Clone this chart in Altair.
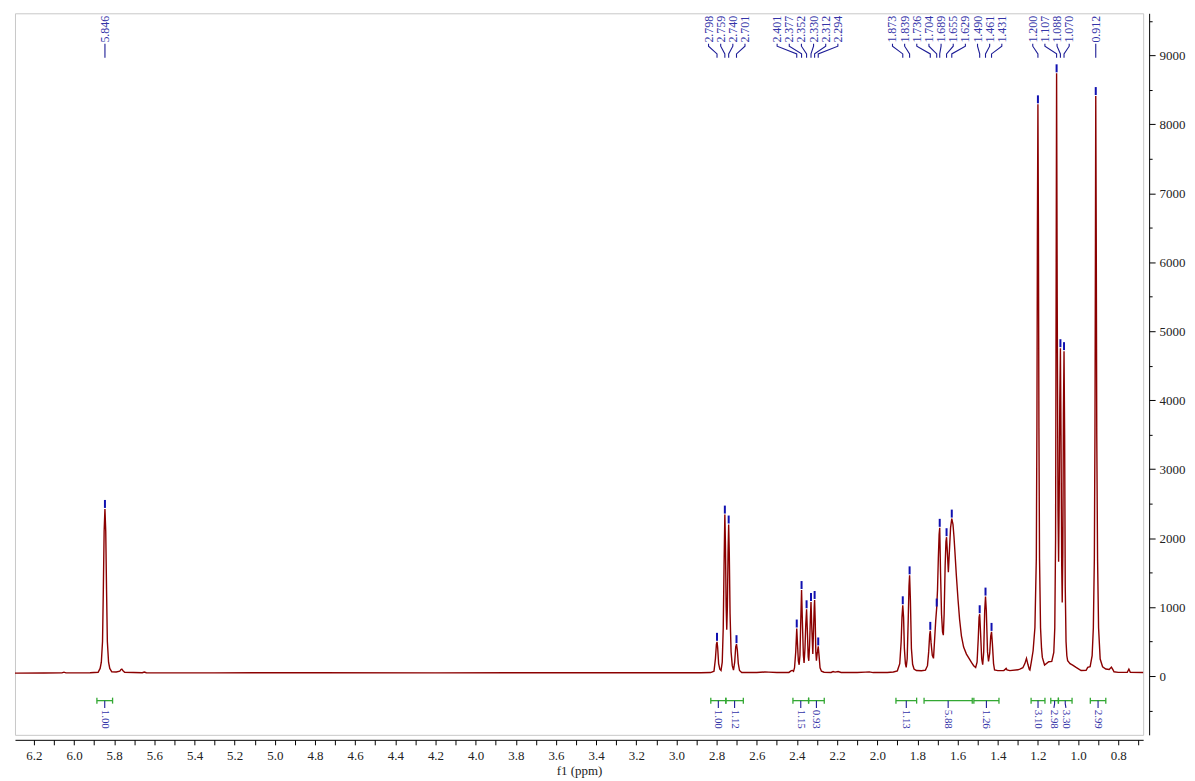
import altair as alt
import pandas as pd

# ---------------- data ----------------
spec_ppm = [6.294, 6.150, 6.060, 6.050, 6.040, 5.920, 5.880, 5.870, 5.864, 5.858, 5.854, 5.850, 5.846,
            5.842, 5.838, 5.834, 5.828, 5.822, 5.812, 5.790, 5.772, 5.766, 5.762, 5.757, 5.748, 5.660,
            5.650, 5.640, 5.300, 4.800, 4.200, 3.600, 3.000, 2.880, 2.830, 2.813, 2.806, 2.801, 2.798,
            2.795, 2.790, 2.784, 2.778, 2.772, 2.767, 2.763, 2.759, 2.756, 2.7525, 2.7495, 2.7465, 2.743,
            2.740, 2.737, 2.733, 2.728, 2.722, 2.716, 2.710, 2.705, 2.701, 2.697, 2.692, 2.686, 2.675,
            2.600, 2.560, 2.540, 2.500, 2.440, 2.428, 2.422, 2.417, 2.412, 2.406, 2.401, 2.397, 2.393,
            2.389, 2.385, 2.381, 2.377, 2.373, 2.368, 2.3645, 2.360, 2.356, 2.352, 2.348, 2.344, 2.341,
            2.337, 2.333, 2.330, 2.326, 2.321, 2.317, 2.314, 2.312, 2.309, 2.306, 2.303, 2.299, 2.294,
            2.290, 2.285, 2.278, 2.265, 2.230, 2.220, 2.210, 2.195, 2.180, 2.100, 2.060, 2.040, 2.020,
            1.950, 1.920, 1.900, 1.888, 1.881, 1.877, 1.873, 1.869, 1.865, 1.860, 1.856, 1.851, 1.846,
            1.842, 1.839, 1.835, 1.830, 1.824, 1.817, 1.805, 1.780, 1.760, 1.750, 1.744, 1.739, 1.736,
            1.732, 1.726, 1.720, 1.715, 1.709, 1.704, 1.700, 1.696, 1.692, 1.689, 1.685, 1.680, 1.675,
            1.671, 1.667, 1.662, 1.658, 1.655, 1.651, 1.646, 1.641, 1.635, 1.629, 1.623, 1.618, 1.614,
            1.606, 1.598, 1.590, 1.581, 1.570, 1.556, 1.540, 1.531, 1.520, 1.510, 1.503, 1.497, 1.493,
            1.490, 1.486, 1.480, 1.475, 1.470, 1.465, 1.461, 1.457, 1.451, 1.446, 1.440, 1.435, 1.431,
            1.427, 1.421, 1.416, 1.400, 1.370, 1.362, 1.358, 1.354, 1.340, 1.300, 1.290, 1.275, 1.265,
            1.257, 1.250, 1.243, 1.240, 1.233, 1.224, 1.215, 1.208, 1.205, 1.2025, 1.200, 1.1975, 1.195,
            1.192, 1.187, 1.182, 1.178, 1.167, 1.146, 1.131, 1.121, 1.116, 1.112, 1.109, 1.107, 1.104,
            1.100, 1.097, 1.094, 1.091, 1.088, 1.085, 1.0815, 1.079, 1.076, 1.073, 1.070, 1.067, 1.064,
            1.060, 1.056, 1.052, 1.040, 1.027, 1.010, 0.985, 0.960, 0.952, 0.940, 0.930, 0.924, 0.919,
            0.916, 0.9135, 0.912, 0.9095, 0.907, 0.903, 0.898, 0.890, 0.878, 0.862, 0.845, 0.834, 0.826,
            0.821, 0.800, 0.755, 0.747, 0.740, 0.676]
spec_int = [42, 44, 46, 56, 46, 47, 55, 110, 200, 500, 1250, 2100, 2423,
            2100, 1250, 500, 200, 110, 62, 58, 70, 95, 100, 80, 55, 48,
            58, 48, 46, 47, 46, 47, 48, 48, 50, 70, 250, 460, 496,
            420, 180, 100, 80, 200, 700, 1600, 2341, 1900, 1000, 670, 1000, 1800,
            2197, 1800, 900, 350, 150, 85, 200, 420, 462, 380, 180, 80, 52,
            50, 58, 56, 50, 52, 78, 80, 68, 120, 350, 689, 450, 220,
            163, 300, 800, 1247, 800, 300, 188, 400, 750, 968, 650, 280, 221,
            450, 850, 1074, 700, 318, 700, 1000, 1103, 800, 350, 221, 330, 429,
            300, 120, 70, 55, 52, 64, 56, 66, 52, 50, 56, 60, 50,
            52, 58, 75, 180, 500, 850, 1026, 850, 400, 180, 125, 250, 800,
            1300, 1460, 1100, 400, 170, 101, 80, 76, 85, 150, 350, 600, 655,
            480, 300, 256, 500, 800, 993, 1250, 1700, 2050, 2149, 1500, 900, 640,
            592, 900, 1600, 1950, 2013, 1800, 1507, 1800, 2150, 2283, 2200, 2020, 1835,
            1450, 1113, 820, 583, 420, 318, 240, 197, 150, 125, 200, 550, 850,
            896, 650, 250, 164, 350, 950, 1152, 950, 350, 212, 330, 580, 640,
            480, 180, 87, 78, 80, 100, 111, 90, 78, 90, 101, 120, 180,
            256, 170, 95, 87, 200, 366, 700, 1700, 3600, 6500, 8290, 6500, 3600,
            1700, 700, 400, 270, 159, 207, 213, 342, 700, 2000, 6000, 8740, 5500,
            2400, 1657, 2600, 4000, 4754, 3500, 1600, 1065, 1800, 3800, 4711, 3500, 1300,
            500, 294, 222, 180, 159, 125, 80, 82, 125, 135, 294, 700, 1700,
            3500, 6300, 8410, 6300, 3500, 1700, 700, 246, 135, 101, 95, 130, 90,
            62, 53, 55, 101, 55, 50]

peak_ppm = [5.846, 2.798, 2.759, 2.740, 2.701, 2.401, 2.377, 2.352, 2.330, 2.312, 2.294,
            1.873, 1.839, 1.736, 1.704, 1.689, 1.655, 1.629, 1.490, 1.461, 1.431,
            1.200, 1.107, 1.088, 1.070, 0.912]

int_start = [5.886, 2.829, 2.754, 2.420, 2.342, 1.907, 1.767, 1.519, 1.234, 1.136, 1.098, 0.939]
int_end = [5.808, 2.754, 2.667, 2.342, 2.264, 1.804, 1.527, 1.394, 1.165, 1.098, 1.030, 0.862]
int_vals = ["1.00", "1.00", "1.12", "1.15", "0.93", "1.13", "5.88", "1.26", "3.10", "2.98", "3.30", "2.99"]

x_ticks = [round(0.7 + 0.1 * i, 1) for i in range(56)]
y_ticks = list(range(-500, 9501, 500))

# ---------------- layout constants ----------------
X_DOM = [0.676, 6.294]
Y_DOM = [-853, 9610]
LBL_GAP = 0.0605          # ppm between neighbouring peak labels
INT_GAP = 0.06            # ppm between neighbouring integral labels
Y_TXT, Y_A, Y_B, Y_C = 9185, 9170, 9133, 9021
Y_D = 8964
Y_INT, Y_INT_M, Y_INT_E, Y_INT_T = -357, -400, -462, -488

BLUE_TXT = "#3434a8"
BLUE_LN = "#1c1c96"
GREEN = "#33a833"
RED = "#8b0000"
FONT = "Liberation Serif"


def spread(centers, gap):
    """place labels (centers sorted descending) at least gap apart, clustering crowded ones"""
    clusters = [[i] for i in range(len(centers))]

    def pos(cl):
        mid = (centers[cl[0]] + centers[cl[-1]]) / 2
        k = len(cl)
        return [mid + gap * ((k - 1) / 2 - j) for j in range(k)]

    merged = True
    while merged:
        merged = False
        for a in range(len(clusters) - 1):
            if pos(clusters[a])[-1] - pos(clusters[a + 1])[0] < gap - 1e-9:
                clusters[a] = clusters[a] + clusters[a + 1]
                del clusters[a + 1]
                merged = True
                break
    out = []
    for cl in clusters:
        out += pos(cl)
    return out


lookup = dict(zip(spec_ppm, spec_int))
peak_h = [lookup[p] for p in peak_ppm]
lab_x = spread(peak_ppm, LBL_GAP)

spec_df = pd.DataFrame({"ppm": spec_ppm, "val": spec_int})
peak_df = pd.DataFrame({"ppm": peak_ppm, "h": peak_h, "lx": lab_x,
                        "txt": [f"{p:.3f}" for p in peak_ppm], "ty": Y_TXT})
conn_rows = []
for i, (p, lx) in enumerate(zip(peak_ppm, lab_x)):
    for k, (xx, yy) in enumerate([(lx, Y_A), (lx, Y_B), (p, Y_C), (p, Y_D)]):
        conn_rows.append({"id": i, "k": k, "x": xx, "y": yy})
conn_df = pd.DataFrame(conn_rows)

int_c = [(s + e) / 2 for s, e in zip(int_start, int_end)]
int_lx = spread(int_c, INT_GAP)
int_df = pd.DataFrame({"s": int_start, "e": int_end, "c": int_c, "lx": int_lx,
                       "txt": int_vals, "y": Y_INT, "ty": Y_INT_T})
cap_df = pd.DataFrame({"x": int_start + int_end, "y": Y_INT})
iconn_rows = []
for i, (c, lx) in enumerate(zip(int_c, int_lx)):
    for k, (xx, yy) in enumerate([(c, Y_INT), (c, Y_INT_M), (lx, Y_INT_E)]):
        iconn_rows.append({"id": i, "k": k, "x": xx, "y": yy})
iconn_df = pd.DataFrame(iconn_rows)

# ---------------- scales / axes ----------------
xs = alt.Scale(domain=X_DOM, reverse=True, nice=False, zero=False)
ys = alt.Scale(domain=Y_DOM, nice=False, zero=False)

x_axis = alt.Axis(
    orient="bottom", offset=5, values=x_ticks,
    labelExpr="round(datum.value * 10) % 2 === 0 ? format(datum.value, '.1f') : ''",
    labelOverlap=False, labelFlush=False, tickSize=5, tickColor="black",
    domainColor="black", labelFont=FONT, labelFontSize=13, labelColor="#222222",
    labelPadding=5, grid=False, title="f1 (ppm)", titleFont=FONT, titleFontSize=13,
    titleFontWeight="normal", titleColor="#222222", titlePadding=2,
)
y_axis = alt.Axis(
    orient="right", offset=6, values=y_ticks,
    labelExpr="datum.value % 1000 === 0 ? format(datum.value, 'd') : ''",
    labelOverlap=False, labelFlush=False,
    tickSize={"condition": {"test": "datum.value % 1000 === 0", "value": 6}, "value": 3},
    tickColor="black", domainColor="black", labelFont=FONT, labelFontSize=13,
    labelColor="#222222", labelPadding=4, grid=False, title=None,
)


def X(field):
    return alt.X(field, scale=xs, axis=x_axis)


def Y(field):
    return alt.Y(field, scale=ys, axis=y_axis)


# ---------------- layers ----------------
spectrum = alt.Chart(spec_df).mark_line(color=RED, strokeWidth=1.4).encode(
    x=X("ppm:Q"), y=Y("val:Q"),
)

markers = alt.Chart(peak_df).mark_rule(color="#1010b0", strokeWidth=2, yOffset=-1, y2Offset=-9).encode(
    x=X("ppm:Q"), y=Y("h:Q"), y2="h:Q",
)

connectors = alt.Chart(conn_df).mark_line(color=BLUE_LN, strokeWidth=1.1).encode(
    x=X("x:Q"), y=Y("y:Q"), detail="id:N", order="k:Q",
)

peak_text = alt.Chart(peak_df).mark_text(
    angle=270, align="left", baseline="middle", font=FONT, fontSize=12, color=BLUE_TXT
).encode(
    x=X("lx:Q"), y=Y("ty:Q"), text="txt:N",
)

brackets = alt.Chart(int_df).mark_rule(color=GREEN, strokeWidth=1.3).encode(
    x=X("s:Q"), x2="e:Q", y=Y("y:Q"),
)

caps = alt.Chart(cap_df).mark_rule(color=GREEN, strokeWidth=1.3, yOffset=-3, y2Offset=3).encode(
    x=X("x:Q"), y=Y("y:Q"), y2="y:Q",
)

int_conn = alt.Chart(iconn_df).mark_line(color=BLUE_LN, strokeWidth=1.1).encode(
    x=X("x:Q"), y=Y("y:Q"), detail="id:N", order="k:Q",
)

int_text = alt.Chart(int_df).mark_text(
    angle=90, align="left", baseline="middle", font=FONT, fontSize=11, color=BLUE_TXT
).encode(
    x=X("lx:Q"), y=Y("ty:Q"), text="txt:N",
)

chart = alt.layer(
    spectrum, markers, connectors, peak_text, brackets, caps, int_conn, int_text
).properties(
    width=1132, height=724,
    padding={"left": 4, "top": 4, "right": 2, "bottom": 0},
).configure_view(
    stroke="#c8c8c8", strokeWidth=1
)

chart.save("out.html", embed_options={"renderer": "svg", "actions": False})
